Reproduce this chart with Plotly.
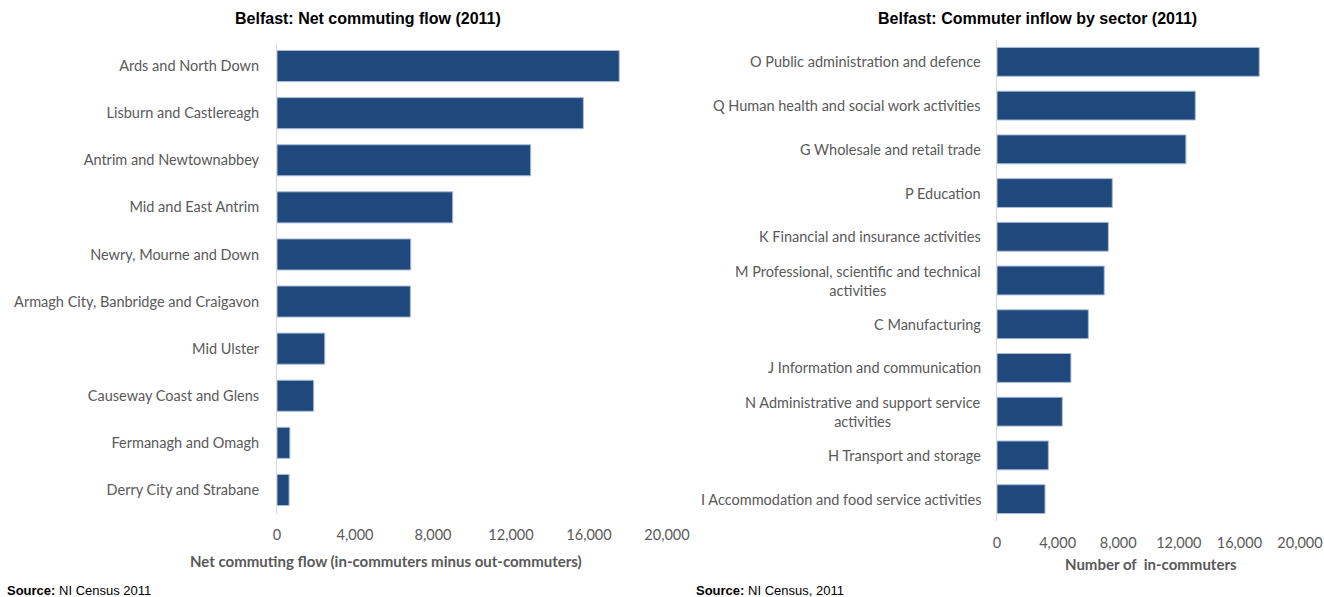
import plotly.graph_objects as go
from plotly.subplots import make_subplots

# Net commuting flow into Belfast by council area (2011)
councils = [
    "Ards and North Down",
    "Lisburn and Castlereagh",
    "Antrim and Newtownabbey",
    "Mid and East Antrim",
    "Newry, Mourne and Down",
    "Armagh City, Banbridge and Craigavon",
    "Mid Ulster",
    "Causeway Coast and Glens",
    "Fermanagh and Omagh",
    "Derry City and Strabane",
]
net_flow = [17550, 15710, 13010, 9010, 6860, 6840, 2450, 1880, 660, 620]

# Commuter inflow into Belfast by industry sector (2011)
sectors = [
    "O Public administration and defence",
    "Q Human health and social work activities",
    "G Wholesale and retail trade",
    "P Education",
    "K Financial and insurance activities",
    "M Professional, scientific and technical<br>activities",
    "C Manufacturing",
    "J Information and communication",
    "N Administrative and support service<br>activities",
    "H Transport and storage",
    "I Accommodation and food service activities",
]
inflow = [17310, 13090, 12470, 7610, 7350, 7080, 6030, 4880, 4310, 3390, 3170]

x_ticks = [0, 4000, 8000, 12000, 16000, 20000]
x_tick_text = ["0", "4,000", "8,000", "12,000", "16,000", "20,000"]

W, H = 1324, 597
BAR = "#1f497d"
EDGE = "#a9bcd8"
GREY = "#595959"
LABEL_FONT = "Lato"
LABEL_SIZE = 14.5

fig = make_subplots(rows=1, cols=2)

fig.add_trace(go.Bar(
    x=net_flow, y=councils, orientation="h",
    marker=dict(color=BAR, line=dict(color=EDGE, width=1)),
    width=0.66, hoverinfo="x+y",
), row=1, col=1)

fig.add_trace(go.Bar(
    x=inflow, y=sectors, orientation="h",
    marker=dict(color=BAR, line=dict(color=EDGE, width=1)),
    width=0.66, hoverinfo="x+y",
), row=1, col=2)

axis_common = dict(
    range=[0, 20000], tickvals=x_ticks, ticktext=x_tick_text,
    showgrid=False, zeroline=False, showline=False, ticks="",
    tickfont=dict(family=LABEL_FONT, size=LABEL_SIZE, color=GREY),
    automargin=False, fixedrange=True,
)

fig.update_layout(
    xaxis=dict(domain=[277 / W, 667 / W], ticklabelstandoff=11, **axis_common),
    xaxis2=dict(domain=[997 / W, 1300 / W], ticklabelstandoff=11, **axis_common),
    yaxis=dict(
        domain=[1 - 513.5 / H, 1 - 42.5 / H],
        autorange="reversed", showgrid=False, zeroline=False,
        showline=True, linecolor="#d9d9d9", linewidth=1, ticks="",
        ticklabelstandoff=14, automargin=False,
        tickfont=dict(family=LABEL_FONT, size=LABEL_SIZE, color=GREY),
    ),
    yaxis2=dict(
        domain=[1 - 521 / H, 1 - 40 / H],
        autorange="reversed", showgrid=False, zeroline=False,
        showline=True, linecolor="#d9d9d9", linewidth=1, ticks="",
        showticklabels=False, automargin=False,
    ),
)

annotations = []

# Sector names, centred within their own block like wrapped labels
for s in sectors:
    annotations.append(dict(
        x=983 / W, xref="paper", y=s, yref="y2",
        text=s, showarrow=False, xanchor="right", yanchor="middle",
        align="center",
        font=dict(family=LABEL_FONT, size=LABEL_SIZE, color=GREY),
    ))

# Chart titles
annotations += [
    dict(x=368 / W, y=1 - 19 / H, xref="paper", yref="paper",
         text="<b>Belfast: Net commuting flow (2011)</b>", showarrow=False,
         xanchor="center", yanchor="middle",
         font=dict(family="Liberation Sans", size=16, color="#000000")),
    dict(x=1037 / W, y=1 - 19 / H, xref="paper", yref="paper",
         text="<b>Belfast: Commuter inflow by sector (2011)</b>", showarrow=False,
         xanchor="center", yanchor="middle",
         font=dict(family="Liberation Sans", size=16, color="#000000")),
    # Axis titles
    dict(x=386 / W, y=1 - 561 / H, xref="paper", yref="paper",
         text="<b>Net commuting flow (in-commuters minus out-commuters)</b>",
         showarrow=False, xanchor="center", yanchor="middle",
         font=dict(family=LABEL_FONT, size=15, color=GREY)),
    dict(x=1151 / W, y=1 - 564 / H, xref="paper", yref="paper",
         text="<b>Number of \u00a0in-commuters</b>",
         showarrow=False, xanchor="center", yanchor="middle",
         font=dict(family=LABEL_FONT, size=15, color=GREY)),
    # Sources
    dict(x=5 / W, y=1 - 590 / H, xref="paper", yref="paper",
         text="<b>Source:</b> NI Census 2011", showarrow=False,
         xanchor="left", yanchor="middle",
         font=dict(family="Liberation Sans", size=13, color="#000000")),
    dict(x=694 / W, y=1 - 590 / H, xref="paper", yref="paper",
         text="<b>Source:</b> NI Census, 2011", showarrow=False,
         xanchor="left", yanchor="middle",
         font=dict(family="Liberation Sans", size=13, color="#000000")),
]

fig.update_layout(
    width=W, height=H,
    margin=dict(l=0, r=0, t=0, b=0, autoexpand=False),
    paper_bgcolor="#ffffff", plot_bgcolor="#ffffff",
    showlegend=False, bargap=0.34,
    annotations=annotations,
)

fig.write_html("out.html")
